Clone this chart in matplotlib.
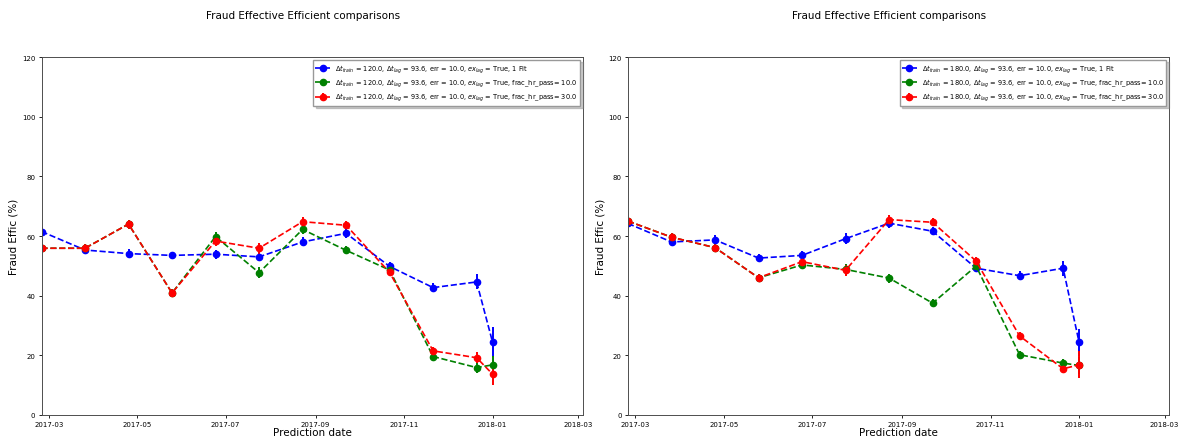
import numpy as np
import pandas as pd
import matplotlib
matplotlib.use("Agg")
import matplotlib.pyplot as plt
import matplotlib.dates as mdates

# ----- data -----
dates = pd.to_datetime(["2017-02-24", "2017-03-26", "2017-04-25", "2017-05-25",
                        "2017-06-24", "2017-07-24", "2017-08-23", "2017-09-22",
                        "2017-10-22", "2017-11-21", "2017-12-21", "2018-01-01"])

# left panel: dt_train = 120
l_fit = [61.5, 55.3, 54.1, 53.5, 53.9, 53.0, 58.0, 60.9, 49.8, 42.7, 44.6, 24.4]
l_fit_err = [1.5, 1.5, 1.5, 1.3, 1.5, 1.5, 1.5, 1.5, 1.5, 1.5, 2.5, 5.0]
l_f10 = [55.9, 55.9, 64.0, 40.9, 59.8, 47.7, 62.2, 55.2, 48.6, 19.6, 15.9, 16.8]
l_f10_err = [1.2, 1.2, 1.5, 1.3, 1.5, 1.8, 1.5, 1.3, 1.3, 1.3, 1.8, 3.0]
l_f30 = [55.9, 55.9, 64.0, 40.9, 58.3, 55.9, 64.8, 63.6, 47.8, 21.5, 19.2, 13.7]
l_f30_err = [1.2, 1.5, 1.5, 1.3, 1.5, 1.8, 1.5, 1.3, 1.3, 1.3, 1.8, 3.8]

# right panel: dt_train = 180
r_fit = [64.2, 58.0, 58.7, 52.6, 53.5, 59.1, 64.3, 61.6, 49.2, 46.7, 49.2, 24.4]
r_fit_err = [1.2, 1.5, 1.5, 1.3, 1.5, 1.8, 1.5, 1.3, 1.3, 1.5, 2.5, 4.5]
r_f10 = [65.0, 59.6, 56.1, 46.0, 50.3, 48.8, 45.9, 37.5, 49.9, 20.2, 17.4, 16.6]
r_f10_err = [1.2, 1.2, 1.3, 1.3, 1.3, 1.8, 1.5, 1.3, 1.3, 1.3, 1.5, 3.0]
r_f30 = [65.0, 59.6, 56.1, 46.0, 51.4, 48.5, 65.5, 64.6, 51.6, 26.5, 15.5, 16.8]
r_f30_err = [1.2, 1.5, 1.5, 1.3, 1.3, 1.8, 1.5, 1.3, 1.3, 1.3, 1.5, 4.5]

labels_left = [
    r"$\Delta t_{train}$ = 120.0, $\Delta t_{lag}$ = 93.6, err = 10.0, $ex_{lag}$ = True, 1 Fit",
    r"$\Delta t_{train}$ = 120.0, $\Delta t_{lag}$ = 93.6, err = 10.0, $ex_{lag}$ = True, frac_hr_pass= 10.0",
    r"$\Delta t_{train}$ = 120.0, $\Delta t_{lag}$ = 93.6, err = 10.0, $ex_{lag}$ = True, frac_hr_pass= 30.0",
]
labels_right = [l.replace("120.0", "180.0") for l in labels_left]

title = "Fraud Effective Efficient comparisons"

# ----- plot -----
W, H = 1179, 439
fig = plt.figure(figsize=(W / 100, H / 100), dpi=100)
ax_l = fig.add_axes([41.5 / W, 1 - 416 / H, 541 / W, 358 / H])
ax_r = fig.add_axes([628 / W, 1 - 416 / H, 541 / W, 358 / H])

panels = [
    (ax_l, [(l_fit, l_fit_err), (l_f10, l_f10_err), (l_f30, l_f30_err)], labels_left, 303 / W),
    (ax_r, [(r_fit, r_fit_err), (r_f10, r_f10_err), (r_f30, r_f30_err)], labels_right, 889 / W),
]
colors = ["blue", "green", "red"]

for ax, series, labels, tx in panels:
    for (vals, errs), c, lab in zip(series, colors, labels):
        ax.errorbar(dates, vals, yerr=errs, fmt="o--", color=c, ms=4.5,
                    lw=1.2, elinewidth=1.4, capsize=0, label=lab)
    ax.set_ylim(0, 120)
    ax.set_xlim(pd.Timestamp("2017-02-24"), pd.Timestamp("2018-03-04"))
    ax.xaxis.set_major_locator(mdates.MonthLocator(bymonth=[1, 3, 5, 7, 9, 11]))
    ax.xaxis.set_major_formatter(mdates.DateFormatter("%Y-%m"))
    ax.tick_params(labelsize=5, length=2.5, width=0.6, pad=2)
    for s in ax.spines.values():
        s.set_linewidth(0.7)
        s.set_color("0.3")
    ax.set_xlabel("Prediction date", fontsize=7.5, labelpad=0)
    ax.set_ylabel("Fraud Effic (%)", fontsize=7.5, labelpad=2)
    ax.legend(loc="upper right", fontsize=4.8, shadow={"color": "0.5", "alpha": 0.4},
              fancybox=False, framealpha=1, edgecolor="0.6", borderpad=0.35,
              labelspacing=0.3, handlelength=2.2, borderaxespad=0.4)
    fig.text(tx, 1 - 16 / H, title, ha="center", va="center", fontsize=7.5)

fig.savefig("out.png", dpi=100)
